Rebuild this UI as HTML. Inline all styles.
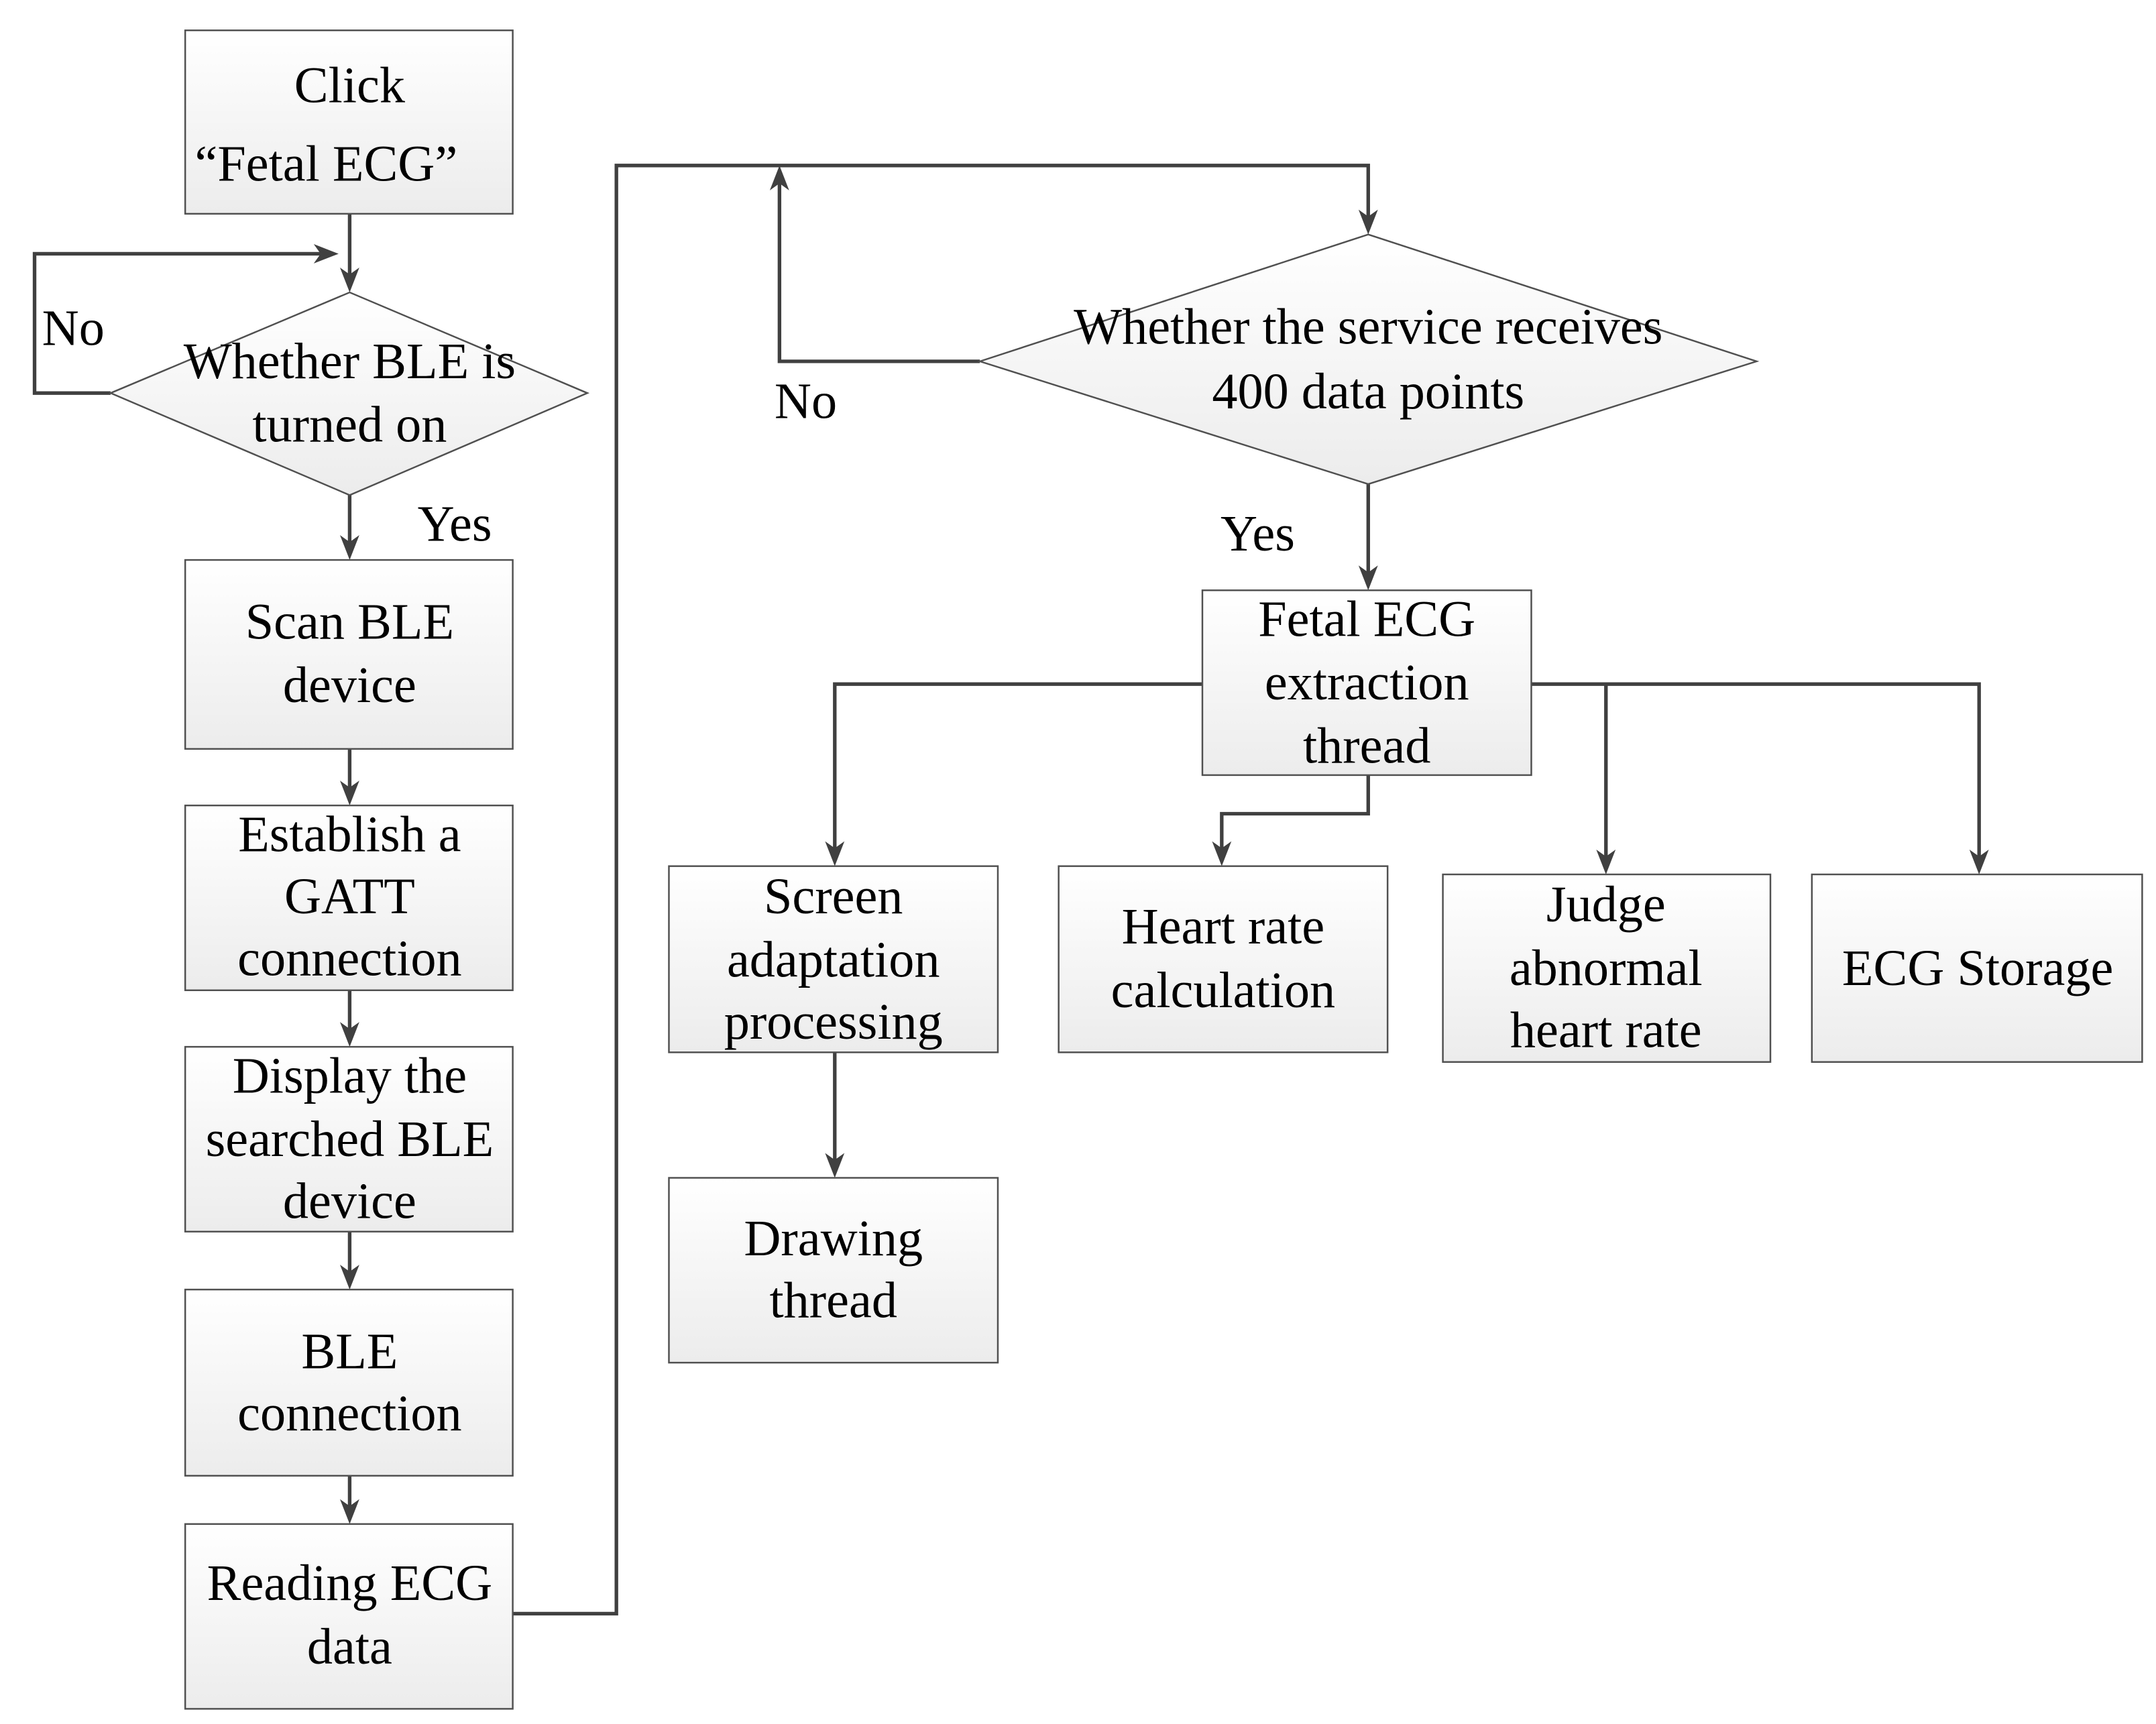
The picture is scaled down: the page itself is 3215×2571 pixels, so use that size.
<!DOCTYPE html>
<html><head><meta charset="utf-8"><style>html,body{margin:0;padding:0;background:#fff}svg{display:block}</style></head>
<body>
<svg width="3215" height="2571" viewBox="0 0 1560 1250" preserveAspectRatio="none" xmlns="http://www.w3.org/2000/svg" font-family="'Liberation Serif', 'DejaVu Serif', serif">
<defs>
<linearGradient id="g" x1="0" y1="0" x2="0" y2="1"><stop offset="0" stop-color="#ffffff"/><stop offset="1" stop-color="#ececec"/></linearGradient>
</defs>
<style>
.b{fill:url(#g);stroke:#505050;stroke-width:1.2}
.l{fill:none;stroke:#404040;stroke-width:2.6}
text{font-family:'Liberation Serif','DejaVu Serif',serif;font-size:37px;fill:#000;text-anchor:middle;dominant-baseline:central}
</style>
<!-- connectors -->
<path class="l" d="M253,155 V200"/><path d="M246,194 L253,212 L260,194 L253,199 z" fill="#404040"/>
<path class="l" d="M80,285 H25 V184 H232"/><path d="M227,177 L245,184 L227,191 L232,184 z" fill="#404040"/>
<path class="l" d="M253,359 V394"/><path d="M246,388 L253,406 L260,388 L253,393 z" fill="#404040"/>
<path class="l" d="M253,543 V572"/><path d="M246,566 L253,584 L260,566 L253,571 z" fill="#404040"/>
<path class="l" d="M253,718 V747"/><path d="M246,741 L253,759 L260,741 L253,746 z" fill="#404040"/>
<path class="l" d="M253,893 V923"/><path d="M246,917 L253,935 L260,917 L253,922 z" fill="#404040"/>
<path class="l" d="M253,1070 V1093"/><path d="M246,1087 L253,1105 L260,1087 L253,1092 z" fill="#404040"/>
<path class="l" d="M371,1170 H446 V120 H990 V158"/><path d="M983,152 L990,170 L997,152 L990,157 z" fill="#404040"/>
<path class="l" d="M709,262 H564 V132"/><path d="M557,138 L564,120 L571,138 L564,133 z" fill="#404040"/>
<path class="l" d="M990,351 V416"/><path d="M983,410 L990,428 L997,410 L990,415 z" fill="#404040"/>
<path class="l" d="M870,496 H604 V616"/><path d="M597,610 L604,628 L611,610 L604,615 z" fill="#404040"/>
<path class="l" d="M1108,496 H1432 V622"/><path d="M1425,616 L1432,634 L1439,616 L1432,621 z" fill="#404040"/>
<path class="l" d="M1162,496 V622"/><path d="M1155,616 L1162,634 L1169,616 L1162,621 z" fill="#404040"/>
<path class="l" d="M990,562 V590 H884 V616"/><path d="M877,610 L884,628 L891,610 L884,615 z" fill="#404040"/>
<path class="l" d="M604,763 V842"/><path d="M597,836 L604,854 L611,836 L604,841 z" fill="#404040"/>
<!-- boxes -->
<rect class="b" x="134" y="22" width="237" height="133"/>
<text x="253" y="62">Click</text><text x="236" y="119">“Fetal ECG”</text>
<polygon class="b" points="80,285 253,212 425,285 253,359"/>
<text x="253" y="262">Whether BLE is</text><text x="253" y="308">turned on</text>
<text x="53" y="238">No</text><text x="329" y="380">Yes</text>
<rect class="b" x="134" y="406" width="237" height="137"/>
<text x="253" y="451">Scan BLE</text><text x="253" y="497">device</text>
<rect class="b" x="134" y="584" width="237" height="134"/>
<text x="253" y="605">Establish a</text><text x="253" y="650">GATT</text><text x="253" y="695">connection</text>
<rect class="b" x="134" y="759" width="237" height="134"/>
<text x="253" y="780">Display the</text><text x="253" y="826">searched BLE</text><text x="253" y="871">device</text>
<rect class="b" x="134" y="935" width="237" height="135"/>
<text x="253" y="980">BLE</text><text x="253" y="1025">connection</text>
<rect class="b" x="134" y="1105" width="237" height="134"/>
<text x="253" y="1148">Reading ECG</text><text x="253" y="1194">data</text>
<polygon class="b" points="709,262 990,170 1271,262 990,351"/>
<text x="990" y="237">Whether the service receives</text><text x="990" y="284">400 data points</text>
<text x="583" y="291">No</text><text x="910" y="387">Yes</text>
<rect class="b" x="870" y="428" width="238" height="134"/>
<text x="989" y="449">Fetal ECG</text><text x="989" y="495">extraction</text><text x="989" y="541">thread</text>
<rect class="b" x="484" y="628" width="238" height="135"/>
<text x="603" y="650">Screen</text><text x="603" y="696">adaptation</text><text x="603" y="741">processing</text>
<rect class="b" x="766" y="628" width="238" height="135"/>
<text x="885" y="672">Heart rate</text><text x="885" y="718">calculation</text>
<rect class="b" x="1044" y="634" width="237" height="136"/>
<text x="1162" y="656">Judge</text><text x="1162" y="702">abnormal</text><text x="1162" y="747">heart rate</text>
<rect class="b" x="1311" y="634" width="239" height="136"/>
<text x="1431" y="702">ECG Storage</text>
<rect class="b" x="484" y="854" width="238" height="134"/>
<text x="603" y="898">Drawing</text><text x="603" y="943">thread</text>
</svg>
</body></html>
